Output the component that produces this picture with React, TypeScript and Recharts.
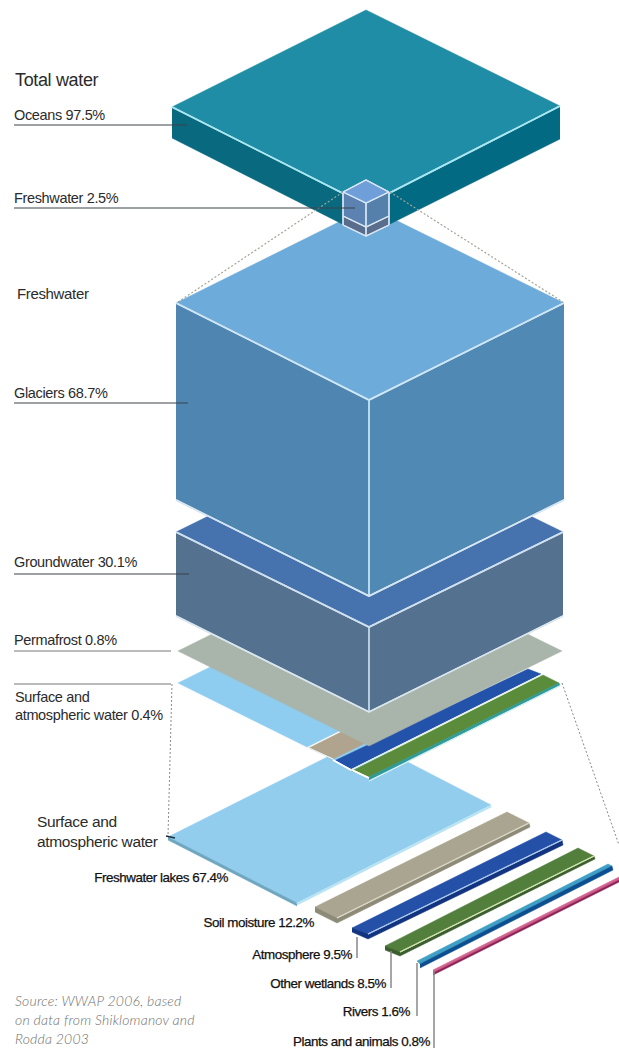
import { Area, ComposedChart, ReferenceLine, XAxis, YAxis } from "recharts";

// label text
const totalCategories = ["Oceans", "Freshwater"];
const totalShares = [97.5, 2.5];
const freshCategories = ["Glaciers", "Groundwater", "Permafrost"];
const freshShares = [68.7, 30.1, 0.8];
const surfaceShare = 0.4;
const surfaceCategories = ["Freshwater lakes", "Soil moisture", "Atmosphere", "Other wetlands", "Rivers", "Plants and animals"];
const surfaceShares = [67.4, 12.2, 9.5, 8.5, 1.6, 0.8];

type Pt = [number, number];

// outlines of the blocks, in picture units
const oceanTop: Pt[] = [[172, 107], [366, 10], [560, 106], [366, 205]];
const oceanLeft: Pt[] = [[172, 107], [366, 205], [366, 236], [172, 138]];
const oceanRight: Pt[] = [[366, 205], [560, 106], [560, 139], [366, 236]];
const cubeTop: Pt[] = [[343, 192], [366, 180], [389, 192], [366, 203]];
const cubeLeft: Pt[] = [[343, 192], [366, 203], [366, 227], [343, 216]];
const cubeRight: Pt[] = [[366, 203], [389, 192], [389, 216], [366, 227]];
const cubeLowLeft: Pt[] = [[343, 216], [366, 227], [366, 236], [343, 225]];
const cubeLowRight: Pt[] = [[366, 227], [389, 216], [389, 225], [366, 236]];
const glacierTop: Pt[] = [[176, 303], [369, 207], [564, 303], [369, 400]];
const glacierLeft: Pt[] = [[176, 303], [369, 400], [369, 596], [176, 500]];
const glacierRight: Pt[] = [[369, 400], [564, 303], [564, 500], [369, 596]];
const groundTop: Pt[] = [[176, 532], [369, 437], [563, 532], [369, 627]];
const groundLeft: Pt[] = [[176, 533], [369, 628], [369, 712], [176, 616]];
const groundRight: Pt[] = [[369, 628], [563, 533], [563, 616], [369, 712]];
const permafrost: Pt[] = [[178, 651], [369, 556], [562, 651], [369, 746]];
const stackLake: Pt[] = [[178, 683], [369, 588], [498, 652], [307, 747]];
const stackSoil: Pt[] = [[309, 748], [500, 653], [524, 665], [333, 759]];
const stackAtmosphere: Pt[] = [[334, 761], [528, 669], [541, 674], [351, 769]];
const stackWetlands: Pt[] = [[352, 771], [543, 675], [559, 683], [369, 777]];
const stackRim: Pt[] = [[369, 777], [559, 683], [560, 685], [369, 780]];
const lakeTop: Pt[] = [[168, 837], [363, 739], [491, 805], [297, 903]];
const lakeSide: Pt[] = [[168, 837], [297, 903], [297, 906], [168, 840]];
const soilTop: Pt[] = [[315, 907], [507, 812], [529, 823], [337, 918]];
const soilSide: Pt[] = [[315, 907], [337, 918], [337, 923], [315, 912]];
const soilFront: Pt[] = [[337, 918], [529, 823], [530, 827], [337, 923]];
const airTop: Pt[] = [[352, 928], [546, 832], [562, 840], [368, 934]];
const airSide: Pt[] = [[352, 928], [368, 934], [368, 939], [352, 932]];
const airFront: Pt[] = [[368, 934], [562, 840], [563, 845], [368, 939]];
const wetTop: Pt[] = [[385, 946], [578, 848], [594, 856], [400, 952]];
const wetSide: Pt[] = [[385, 946], [400, 952], [400, 956], [385, 950]];
const wetFront: Pt[] = [[400, 952], [594, 856], [595, 859], [400, 956]];
const riverTop: Pt[] = [[417, 961], [608, 864], [612, 866], [420, 964]];
const riverFront: Pt[] = [[420, 964], [612, 866], [613, 870], [420, 968]];
const plantTop: Pt[] = [[433, 970], [619, 877], [619, 880], [433, 973]];
const plantFront: Pt[] = [[433, 973], [619, 880], [619, 882], [433, 975]];

// turn a convex outline into the low/high rows a range Area wants
function toRows(outline: Pt[]) {
  const xs = [...new Set(outline.map((p) => p[0]))].sort((a, b) => a - b);
  return xs.map((x) => {
    const ys: number[] = [];
    outline.forEach((p, i) => {
      const q = outline[(i + 1) % outline.length];
      if (x < Math.min(p[0], q[0]) || x > Math.max(p[0], q[0])) return;
      if (p[0] === q[0]) ys.push(p[1], q[1]);
      else ys.push(p[1] + ((q[1] - p[1]) * (x - p[0])) / (q[0] - p[0]));
    });
    return { x, range: [Math.min(...ys), Math.max(...ys)] };
  });
}

const edgeRows = (path: Pt[]) => path.map((p) => ({ x: p[0], range: [p[1], p[1]] }));

const face = (outline: Pt[], fill: string) => (
  <Area
    data={toRows(outline)}
    dataKey="range"
    type="linear"
    fill={fill}
    fillOpacity={1}
    stroke={fill}
    strokeWidth={0.5}
    dot={false}
    activeDot={false}
    isAnimationActive={false}
  />
);

const edge = (path: Pt[], color: string, width = 1.5) => (
  <Area
    data={edgeRows(path)}
    dataKey="range"
    type="linear"
    fill="none"
    stroke={color}
    strokeWidth={width}
    dot={false}
    activeDot={false}
    isAnimationActive={false}
  />
);

const leader = (x1: number, y1: number, x2: number, y2: number, color = "#3a4248", width = 1, dash?: string) => (
  <ReferenceLine
    segment={[{ x: x1, y: y1 }, { x: x2, y: y2 }]}
    stroke={color}
    strokeWidth={width}
    strokeDasharray={dash}
    ifOverflow="visible"
  />
);

function Note({ x, y, right, size = 14.5, bold, children }: any) {
  return (
    <div
      style={{
        position: "absolute",
        top: y,
        left: right === undefined ? x : undefined,
        right: right === undefined ? undefined : 619 - right,
        fontSize: size,
        lineHeight: "18px",
        letterSpacing: bold ? -0.45 : -0.35,
        color: bold ? "#111" : "#2b2b2b",
        WebkitTextStroke: bold ? "0.25px #111" : undefined,
        whiteSpace: "nowrap",
      }}
    >
      {children}
    </div>
  );
}

const share = (names: string[], values: number[], i: number) => `${names[i]} ${values[i]}%`;

export default function App() {
  return (
    <div
      style={{
        position: "fixed",
        left: 0,
        top: 0,
        width: 619,
        height: 1049,
        background: "#fff",
        overflow: "hidden",
        fontFamily: "'Liberation Sans', Arial, sans-serif",
      }}
    >
      <ComposedChart width={619} height={1049} margin={{ top: 0, right: 0, bottom: 0, left: 0 }}>
        <XAxis dataKey="x" type="number" domain={[0, 619]} hide allowDataOverflow />
        <YAxis type="number" domain={[0, 1049]} reversed hide allowDataOverflow />

        {/* exploded surface water strips */}
        {face(lakeTop, "#93cdee")}
        {face(lakeSide, "#6fa6bf")}
        {edge([[297, 904], [491, 806]], "#b9e4f4", 2)}
        {face(soilTop, "#a9a590")}
        {face(soilSide, "#8d8a78")}
        {face(soilFront, "#8d8a78")}
        {edge([[337, 918], [529, 823]], "#d8d4c2", 1.2)}
        {face(airTop, "#2450a8")}
        {face(airSide, "#12337f")}
        {face(airFront, "#12337f")}
        {edge([[368, 934], [562, 840]], "#a9c6ea", 1.2)}
        {face(wetTop, "#527f3c")}
        {face(wetSide, "#3a5e2c")}
        {face(wetFront, "#3a5e2c")}
        {edge([[400, 952], [594, 856]], "#cfe0b0", 1.2)}
        {face(riverTop, "#3f9fc4")}
        {face(riverFront, "#0c4f90")}
        {face(plantTop, "#d0608e")}
        {face(plantFront, "#8c1f55")}

        {/* surface layer in the stack */}
        {face(stackLake, "#8fcdf0")}
        {face(stackSoil, "#b0a48e")}
        {face(stackAtmosphere, "#2352aa")}
        {face(stackWetlands, "#5a8c3c")}
        {face(stackRim, "#2f9a9a")}
        {edge([[309, 748], [333, 759]], "#e8f0f0", 1)}
        {edge([[333, 760], [351, 770]], "#ffffff", 1.5)}
        {edge([[351, 770], [541, 675]], "#e4f0ea", 1.2)}
        {edge([[369, 778], [352, 770]], "#ffffff", 1.5)}
        {edge([[369, 781], [560, 686]], "#d4f0ee", 1)}

        {/* permafrost */}
        {face(permafrost, "#a9b5ab")}

        {/* groundwater */}
        {face(groundTop, "#4672ae")}
        {face(groundLeft, "#557190")}
        {face(groundRight, "#557190")}
        {edge([[176, 532], [369, 627], [563, 532]], "#cfe0ee", 1.6)}
        {edge([[369, 628], [369, 712]], "#bcd4e2", 1.5)}
        {edge([[176, 616], [369, 712], [563, 616]], "#d9e6ee", 1.5)}

        {/* glaciers */}
        {face(glacierTop, "#6dabdb")}
        {face(glacierLeft, "#4f85b1")}
        {face(glacierRight, "#5089b4")}
        {edge([[176, 303], [369, 400], [564, 303]], "#cfe6f4", 1.6)}
        {edge([[369, 400], [369, 596]], "#bfe0f0", 1.5)}
        {edge([[176, 500], [369, 596], [564, 500]], "#d6e6f2", 1.6)}

        {/* oceans */}
        {face(oceanTop, "#1f8da5")}
        {face(oceanLeft, "#08697f")}
        {face(oceanRight, "#036a84")}
        {edge([[172, 107], [366, 205], [560, 106]], "#a9e6f0", 1.6)}

        {/* the small freshwater cube */}
        {face(cubeTop, "#6f9fd8")}
        {face(cubeLeft, "#5b82b0")}
        {face(cubeRight, "#5580ab")}
        {face(cubeLowLeft, "#5a6d8c")}
        {face(cubeLowRight, "#5a6d8c")}
        {edge([[343, 192], [366, 180], [389, 192]], "#d8e6f5", 1.3)}
        {edge([[343, 192], [366, 203], [389, 192]], "#d8e6f5", 1.3)}
        {edge([[343, 216], [366, 227], [389, 216]], "#d8e6f5", 1.3)}
        {edge([[343, 225], [366, 236], [389, 225]], "#d8e6f5", 1.3)}
        {edge([[343, 192], [343, 225]], "#d8e6f5", 1.3)}
        {edge([[366, 203], [366, 236]], "#d8e6f5", 1.3)}
        {edge([[389, 192], [389, 225]], "#d8e6f5", 1.3)}

        {/* guide lines */}
        {leader(178, 302, 343, 192, "#a3a396", 1.2, "2 2")}
        {leader(390, 192, 563, 302, "#a3a396", 1.2, "2 2")}
        {leader(172, 684, 168, 836, "#8a8a8a", 1, "2 2")}
        {leader(562, 683, 619, 845, "#8a8a8a", 1, "2 2")}
        {leader(14, 125, 187, 125)}
        {leader(14, 208, 355, 208)}
        {leader(14, 403, 188, 403)}
        {leader(14, 574, 189, 574)}
        {leader(14, 651, 171, 651, "#777", 1)}
        {leader(14, 684, 171, 684, "#777", 1)}
        {leader(166, 836, 175, 838, "#1c2f3d", 1.5)}
        {leader(357, 937, 357, 958, "#888", 1.5)}
        {leader(391, 951, 391, 988, "#888", 1.5)}
        {leader(417, 963, 417, 1016, "#888", 1.5)}
        {leader(434, 971, 434, 1048, "#888", 1.5)}
      </ComposedChart>

      <Note x={15} y={71} size={18}>Total water</Note>
      <Note x={14} y={106}>{share(totalCategories, totalShares, 0)}</Note>
      <Note x={14} y={189}>{share(totalCategories, totalShares, 1)}</Note>
      <Note x={17} y={285} size={15}>Freshwater</Note>
      <Note x={14} y={384}>{share(freshCategories, freshShares, 0)}</Note>
      <Note x={14} y={553}>{share(freshCategories, freshShares, 1)}</Note>
      <Note x={14} y={631}>{share(freshCategories, freshShares, 2)}</Note>
      <Note x={15} y={688}>Surface and</Note>
      <Note x={15} y={706}>{`atmospheric water ${surfaceShare}%`}</Note>
      <Note x={37} y={813} size={15.5}>Surface and</Note>
      <Note x={37} y={833} size={15.5}>atmospheric water</Note>
      <Note right={228} y={869} size={13.4} bold>{share(surfaceCategories, surfaceShares, 0)}</Note>
      <Note right={314} y={914} size={13.4} bold>{share(surfaceCategories, surfaceShares, 1)}</Note>
      <Note right={352} y={946} size={13.4} bold>{share(surfaceCategories, surfaceShares, 2)}</Note>
      <Note right={386} y={975} size={13.4} bold>{share(surfaceCategories, surfaceShares, 3)}</Note>
      <Note right={410} y={1003} size={13.4} bold>{share(surfaceCategories, surfaceShares, 4)}</Note>
      <Note right={430} y={1033} size={13.4} bold>{share(surfaceCategories, surfaceShares, 5)}</Note>

      <div
        style={{
          position: "absolute",
          left: 15,
          top: 991,
          fontFamily: "Lato, sans-serif",
          fontStyle: "italic",
          fontWeight: 300,
          fontSize: 14,
          lineHeight: "19px",
          letterSpacing: 0.2,
          color: "#6f6f6f",
          whiteSpace: "nowrap",
        }}
      >
        Source: WWAP 2006, based
        <br />
        on data from Shiklomanov and
        <br />
        Rodda 2003
      </div>
    </div>
  );
}
